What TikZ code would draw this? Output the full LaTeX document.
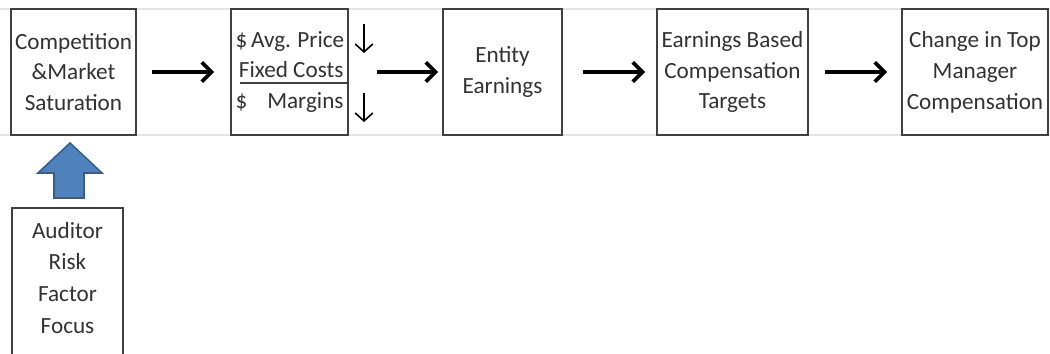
\documentclass[tikz,border=0pt]{standalone}
\usepackage{fontspec}
\setmainfont{Carlito}
\usetikzlibrary{arrows.meta}
\definecolor{officeBlue}{RGB}{79, 129, 189}
\definecolor{officeBlueDark}{RGB}{56, 93, 138}
\definecolor{textGray}{RGB}{50, 50, 50}

\begin{document}
\begin{tikzpicture}[x=0.02cm, y=-0.02cm,
    stagebox/.style={draw=black!75, line width=0.9pt, minimum height=2.52cm, align=center,
      inner sep=0pt, text=textGray, font=\fontsize{13.2}{17.6}\selectfont},
    flow/.style={-{Straight Barb[length=5.5pt,width=11pt]}, line width=2.2pt, black},
    drop/.style={-{Straight Barb[length=4.5pt,width=10pt]}, line width=0.9pt, black}]
    \useasboundingbox (0,0) rectangle (1050,354);

    % Table rules
    \draw[gray!20, line width=0.6pt] (0,9) -- (1050,9);
    \draw[gray!20, line width=0.6pt] (0,135) -- (1050,135);

    % Stages
    \node[stagebox, minimum width=2.5cm] (comp) at (73.5,72) {Competition\\\&Market\\Saturation};
    \node[stagebox, minimum width=2.34cm, align=left] (price) at (289.5,72)
      {\hbox to 2.16cm{\hfill\$\,Avg. Price}\\
       \hbox to 2.16cm{\hfill Fixed Costs}\\
       \hbox to 2.16cm{\$\hfill Margins}};
    \node[stagebox, minimum width=2.38cm] (earn) at (502.5,72) {Entity\\Earnings};
    \node[stagebox, minimum width=3.02cm] (target) at (732.5,72) {Earnings Based\\Compensation\\Targets};
    \node[stagebox, minimum width=2.92cm] (topcomp) at (975,72) {Change in Top\\Manager\\Compensation};

    % Underline and direction marks
    \coordinate (ul) at (240,83);
    \draw[black!75, line width=0.7pt] (ul) -- (ul -| price.east);
    \coordinate (dropA) at (364,24);
    \coordinate (dropB) at (364,93);
    \draw[drop] (dropA) -- ++(0,29);
    \draw[drop] (dropB) -- ++(0,29);

    % Flow arrows
    \draw[flow, shorten <=0.3cm, shorten >=0.32cm] (comp) -- (price);
    \draw[flow, shorten <=0.56cm, shorten >=0.08cm] (price) -- (earn);
    \draw[flow, shorten <=0.4cm, shorten >=0.22cm] (earn) -- (target);
    \draw[flow, shorten <=0.32cm, shorten >=0.28cm] (target) -- (topcomp);

    % Auditor focus
    \node[text=textGray, align=center, font=\fontsize{13.2}{18.2}\selectfont] (aud) at (67.5,278)
      {Auditor\\Risk\\Factor\\Focus};
    \draw[black!75, line width=0.9pt] (12,354) -- (12,208) -- (123,208) -- (123,354);
    \draw[fill=officeBlue, draw=officeBlueDark, line width=0.9pt]
      (70,143) -- (102,173) -- (84,173) -- (84,198) -- (54,198) -- (54,173) -- (38,173) -- cycle;
\end{tikzpicture}
\end{document}
